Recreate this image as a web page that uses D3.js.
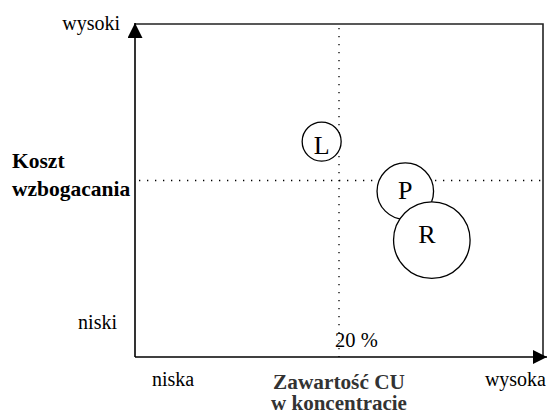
<html>
<head>
<meta charset="utf-8">
<title>koszt</title>
<script src="https://cdn.jsdelivr.net/npm/d3@7"></script>
<style>
body { margin: 0; background: #fff; }
text { font-family: "Liberation Serif", "Times New Roman", serif; fill: #000; }
</style>
</head>
<body>
<script>
// deposits: name, Cu content (%), cost (0-10), relative size
var names = ["L", "P", "R"];
var cuContent = [18.3, 26.5, 29.1];
var cost = [6.47, 4.98, 3.51];
var sizes = [1, 2.1, 3.85];

var xTicks = ["niska", "wysoka"];
var yTicks = ["niski", "wysoki"];
var midCu = 20, midCost = 5.3;

var W = 547, H = 414;
var mLeft = 135, mRight = 543, mTop = 24, mBottom = 357;

var x = d3.scaleLinear().domain([0, 40]).range([mLeft, mRight]);
var y = d3.scaleLinear().domain([0, 10]).range([mBottom, mTop]);
var r = d3.scaleSqrt().domain([0, 1]).range([0, 19.5]);

var svg = d3.select("body").append("svg")
    .attr("width", W)
    .attr("height", H);

var defs = svg.append("defs");
defs.append("marker").attr("id", "arr")
    .attr("viewBox", "0 0 10 10")
    .attr("refX", 10).attr("refY", 5)
    .attr("markerUnits", "userSpaceOnUse")
    .attr("markerWidth", 19).attr("markerHeight", 14)
    .attr("orient", "auto")
  .append("path").attr("d", "M0,0L10,5L0,10Z").attr("fill", "#000");
defs.append("marker").attr("id", "arrUp")
    .attr("viewBox", "0 0 10 10")
    .attr("refX", 10).attr("refY", 5)
    .attr("markerUnits", "userSpaceOnUse")
    .attr("markerWidth", 16).attr("markerHeight", 15)
    .attr("orient", "auto")
  .append("path").attr("d", "M0,0L10,5L0,10Z").attr("fill", "#000");

// frame top and right
svg.append("path")
    .attr("d", "M" + mLeft + "," + mTop + "H" + mRight + "V" + mBottom)
    .attr("fill", "none").attr("stroke", "#222").attr("stroke-width", 1.6);

// axes with arrows
svg.append("line")
    .attr("x1", mLeft).attr("y1", mBottom).attr("x2", mLeft).attr("y2", mTop - 1)
    .attr("stroke", "#000").attr("stroke-width", 1.6)
    .attr("marker-end", "url(#arrUp)");
svg.append("line")
    .attr("x1", mLeft).attr("y1", mBottom).attr("x2", W).attr("y2", mBottom)
    .attr("stroke", "#000").attr("stroke-width", 1.6)
    .attr("marker-end", "url(#arr)");

// dotted dividers
svg.append("line")
    .attr("x1", x(midCu)).attr("x2", x(midCu))
    .attr("y1", mTop + 4).attr("y2", mBottom)
    .attr("stroke", "#000").attr("stroke-width", 1.3)
    .attr("stroke-dasharray", "1.3,6.7");
svg.append("line")
    .attr("x1", mLeft + 4).attr("x2", mRight)
    .attr("y1", y(midCost)).attr("y2", y(midCost))
    .attr("stroke", "#000").attr("stroke-width", 1.3)
    .attr("stroke-dasharray", "1.3,6.7");

// circles
var g = svg.selectAll(".dep")
    .data(names)
    .enter().append("g").attr("class", "dep");
g.append("circle")
    .attr("cx", function (d, i) { return x(cuContent[i]); })
    .attr("cy", function (d, i) { return y(cost[i]); })
    .attr("r", function (d, i) { return r(sizes[i]); })
    .attr("fill", "#fff").attr("stroke", "#000").attr("stroke-width", 1.3);
// label nudges inside circles
var ldx = [0, 0, -5], ldy = [12, 8, 3];
g.append("text")
    .attr("x", function (d, i) { return x(cuContent[i]) + ldx[i]; })
    .attr("y", function (d, i) { return y(cost[i]) + ldy[i]; })
    .attr("text-anchor", "middle")
    .style("font-size", "26px")
    .text(function (d) { return d; });

// tick labels
svg.append("text").attr("x", 120).attr("y", 30).attr("text-anchor", "end")
    .style("font-size", "20px").text(yTicks[1]);
svg.append("text").attr("x", 117).attr("y", 329).attr("text-anchor", "end")
    .style("font-size", "20px").text(yTicks[0]);
svg.append("text").attr("x", 152).attr("y", 386)
    .style("font-size", "20px").text(xTicks[0]);
svg.append("text").attr("x", 546).attr("y", 386).attr("text-anchor", "end")
    .style("font-size", "20px").text(xTicks[1]);
svg.append("text").attr("x", x(midCu) - 4).attr("y", 347)
    .style("font-size", "20.5px").text(midCu + " %");

// axis titles
svg.append("text").attr("x", 12).attr("y", 168)
    .style("font-size", "21.5px").style("font-weight", "bold").text("Koszt");
svg.append("text").attr("x", 12).attr("y", 196)
    .style("font-size", "21.5px").style("font-weight", "bold").text("wzbogacania");
svg.append("text").attr("x", x(midCu)).attr("y", 389).attr("text-anchor", "middle")
    .style("font-size", "21.3px").style("font-weight", "bold").style("fill", "#333").text("Zawartość CU");
svg.append("text").attr("x", x(midCu)).attr("y", 410).attr("text-anchor", "middle")
    .style("font-size", "21px").style("font-weight", "bold").style("fill", "#333").text("w koncentracie");
</script>
</body>
</html>
